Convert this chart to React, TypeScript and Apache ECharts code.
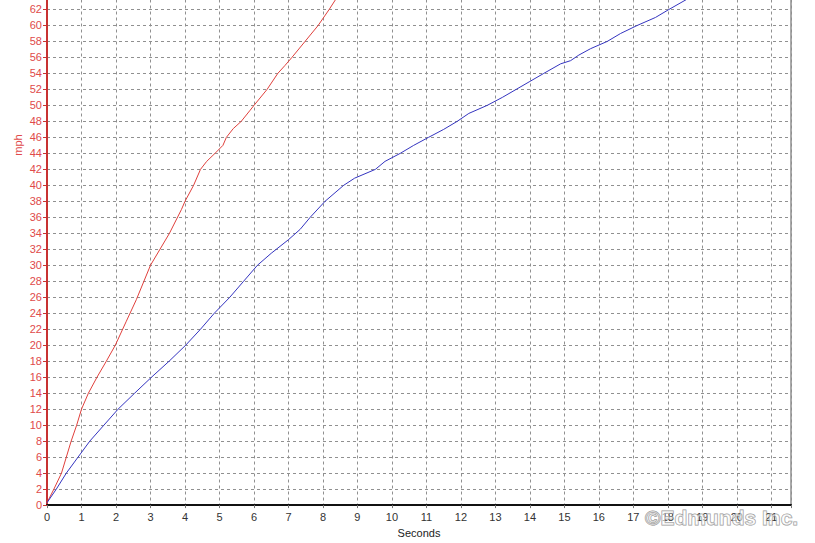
import React, { useEffect, useRef } from "react";
import * as echarts from "echarts";

// Red run (faster car): time in seconds, speed in mph
const redTime = [0, 0.2, 0.42, 0.56, 0.7, 0.86, 1.0, 1.2, 1.45, 1.72, 1.98, 2.3, 2.59, 3.0, 3.55, 3.9, 4.0, 4.25, 4.45, 4.63, 4.87, 5.1, 5.2, 5.4, 5.63, 5.89, 6.0, 6.38, 6.69, 6.9, 7.1, 7.48, 7.86, 8.18, 8.45];
const redMph = [0.3, 2, 4, 6, 8, 10, 12, 14, 16, 18, 20, 23, 25.7, 30, 34, 37, 38, 40, 42, 43, 44, 45, 46, 47.1, 48, 49.4, 50, 52, 54, 55, 56, 58, 60, 62, 63.8];

// Blue run (slower car)
const blueTime = [0, 0.27, 0.56, 0.9, 1.24, 1.65, 2.06, 2.54, 3.03, 3.54, 4.02, 4.45, 4.85, 5.3, 5.7, 6.1, 6.5, 7.0, 7.34, 7.63, 8.06, 8.6, 8.92, 9.52, 9.8, 10.24, 10.63, 11.06, 11.5, 11.89, 12.23, 12.76, 13.2, 13.6, 14.0, 14.4, 14.89, 15.18, 15.42, 15.76, 16.24, 16.63, 17.11, 17.64, 18.03, 18.6];
const blueMph = [0.3, 2, 4, 6, 8, 10, 12, 14, 16, 18, 20, 22, 24, 26, 28, 30, 31.5, 33.2, 34.5, 36, 38, 40, 40.9, 42, 43, 44, 45, 46, 47, 48, 49, 50, 51, 52, 53, 54, 55.2, 55.6, 56.3, 57.1, 58, 59, 60, 61, 62, 63.4];

const xMin = 0;
const xMax = 21.57;
const yMin = 0;
const yMax = 64;

export default function App() {
  const ref = useRef<HTMLDivElement>(null);
  useEffect(() => {
    document.body.style.margin = "0";
    const chart = echarts.init(ref.current!, null, { renderer: "svg" });
    const red = redTime.map((t, i) => [t, redMph[i]]);
    const blue = blueTime.map((t, i) => [t, blueMph[i]]);
    const gridLine = { show: true, lineStyle: { color: "#909090", type: [3, 3], width: 1 } };
    chart.setOption({
      animation: false,
      backgroundColor: "#ffffff",
      grid: {
        left: 47,
        right: 24,
        top: 0,
        bottom: 35.5,
        show: true,
        borderColor: "#555555",
        borderWidth: 1,
        backgroundColor: "transparent",
      },
      xAxis: {
        type: "value",
        min: xMin,
        max: xMax,
        interval: 1,
        name: "Seconds",
        nameLocation: "middle",
        nameGap: 20,
        nameTextStyle: { color: "#222", fontSize: 11, fontFamily: "Liberation Sans, Arial" },
        axisLine: { show: true, lineStyle: { color: "#111", width: 2 } },
        axisTick: { show: true, length: 3, lineStyle: { color: "#777" } },
        axisLabel: {
          color: "#333",
          fontSize: 11,
          margin: 6,
          fontFamily: "Liberation Sans, Arial",
          formatter: (v: number) => (Number.isInteger(v) ? String(v) : ""),
        },
        splitLine: gridLine,
      },
      yAxis: {
        type: "value",
        min: yMin,
        max: yMax,
        interval: 2,
        axisLine: { show: true, lineStyle: { color: "#c83232", width: 2 } },
        axisTick: { show: true, length: 4, lineStyle: { color: "#c83232" } },
        axisLabel: {
          color: "#e04a4a",
          fontSize: 11,
          margin: 5,
          fontFamily: "Liberation Sans, Arial",
        },
        splitLine: gridLine,
      },
      series: [
        {
          type: "line",
          data: red,
          showSymbol: false,
          lineStyle: { color: "#e0403c", width: 1 },
          z: 3,
        },
        {
          type: "line",
          data: blue,
          showSymbol: false,
          lineStyle: { color: "#3434c0", width: 1 },
          z: 3,
        },
      ],
      graphic: [
        {
          type: "text",
          x: 18,
          y: 157,
          rotation: Math.PI / 2,
          style: {
            text: "mph",
            fill: "#e04a4a",
            font: "11px Liberation Sans, Arial",
            textAlign: "center",
            textVerticalAlign: "middle",
          },
        },
        {
          type: "text",
          x: 645,
          y: 529,
          z: 100,
          style: {
            text: "©Edmunds Inc.",
            fill: "rgba(255,255,255,0.55)",
            stroke: "rgba(120,120,120,0.8)",
            lineWidth: 1,
            font: "bold 21px Liberation Sans, Arial",
            textAlign: "left",
            textVerticalAlign: "middle",
          },
        },
      ],
    });
    return () => chart.dispose();
  }, []);
  return (
    <div
      ref={ref}
      style={{ position: "absolute", left: 0, top: -12, width: 815, height: 555 }}
    />
  );
}
